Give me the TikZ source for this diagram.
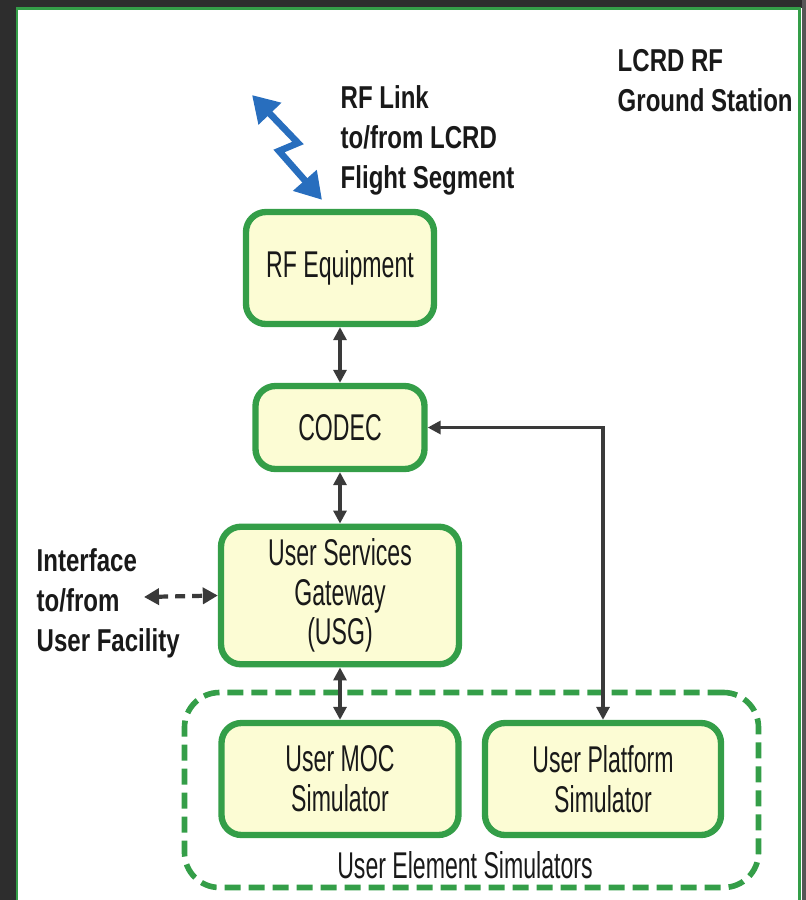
\documentclass[tikz,border=0pt]{standalone}
\usepackage{fontspec}
\setmainfont{Liberation Sans}[FakeStretch=0.62]
\newfontfamily\labelfont{Liberation Sans}[FakeStretch=0.76]
\usetikzlibrary{arrows.meta}
\definecolor{boxgreen}{RGB}{52,158,72}
\definecolor{boxfill}{RGB}{252,252,212}
\definecolor{linkblue}{RGB}{40,110,190}
\definecolor{wiregray}{RGB}{58,58,58}
\definecolor{framedark}{RGB}{45,45,45}

\begin{document}
\begin{tikzpicture}[
    block/.style={draw=boxgreen, fill=boxfill, line width=1.8pt, rounded corners=0.2cm,
      align=center, text=black!90, font=\fontsize{10.6}{11.3}\selectfont},
    wire/.style={wiregray, line width=0.9pt,
      {Triangle[length=1.3mm,width=1.3mm]}-{Triangle[length=1.3mm,width=1.3mm]}},
    tag/.style={align=left, anchor=west, inner sep=0pt, text=black!90,
      font=\labelfont\bfseries\fontsize{9}{11.4}\selectfont},
  ]
  \useasboundingbox (0,0) rectangle (8.06,-9.00);
  \fill[framedark] (0,0) rectangle (0.16,-9.00);
  \fill[framedark] (0,0) rectangle (8.06,-0.075);
  \fill[framedark!80] (8.015,0) rectangle (8.06,-9.00);
  \draw[boxgreen, line width=0.6pt] (0.17,-9.00) -- (0.17,-0.085) -- (7.995,-0.085) -- (7.995,-9.00);

  \node[tag] (station) at (6.17,-0.81) {LCRD RF\\Ground Station};
  \node[tag] (rflink) at (3.40,-1.40) {RF Link\\to/from LCRD\\Flight Segment};
  \node[tag] (userfac) at (0.36,-6.03) {Interface\\to/from\\User Facility};

  \node[draw=boxgreen, line width=1.6pt, dash pattern=on 0.16cm off 0.08cm, rounded corners=0.35cm,
    minimum width=5.74cm, minimum height=1.95cm] (usersims) at (4.715,-7.90) {};
  \node[font=\fontsize{10.6}{11.3}\selectfont, text=black!90] (simlabel) at (4.65,-8.65) {User Element Simulators};

  \node[block, minimum width=1.88cm, minimum height=1.12cm] (rf) at (3.40,-2.68) {RF Equipment};
  \node[block, minimum width=1.69cm, minimum height=0.83cm] (codec) at (3.40,-4.275) {CODEC};
  \node[block, minimum width=2.38cm, minimum height=1.29cm] (usg) at (3.40,-5.955) {User Services\\Gateway\\(USG)};
  \node[block, minimum width=2.37cm, minimum height=1.12cm] (moc) at (3.40,-7.79) {User MOC\\Simulator};
  \node[block, minimum width=2.36cm, minimum height=1.12cm] (plat) at (6.03,-7.79) {User Platform\\Simulator};

  \coordinate (sky) at (2.52,-0.95);
  \coordinate (rfin) at ([shift={(-0.18,0.09)}]rf.north);
  \coordinate (ifc) at (1.44,-5.97);

  \draw[linkblue, line width=1.9pt, line join=miter,
    {Triangle[length=2.6mm,width=3mm]}-{Triangle[length=2.6mm,width=3mm]}]
    (sky) -- (2.98,-1.43) -- (2.79,-1.51) -- (rfin);
  \draw[wire] (rf) -- (codec);
  \draw[wire] (codec) -- (usg);
  \draw[wire] (usg) -- (moc);
  \draw[wire] (codec.east) -| (plat.north);
  \draw[wire, line width=1.2pt, dash pattern=on 0.1cm off 0.07cm,
    {Triangle[length=1.5mm,width=1.6mm]}-{Triangle[length=1.5mm,width=1.6mm]}] (ifc) -- (usg.west);
\end{tikzpicture}
\end{document}
